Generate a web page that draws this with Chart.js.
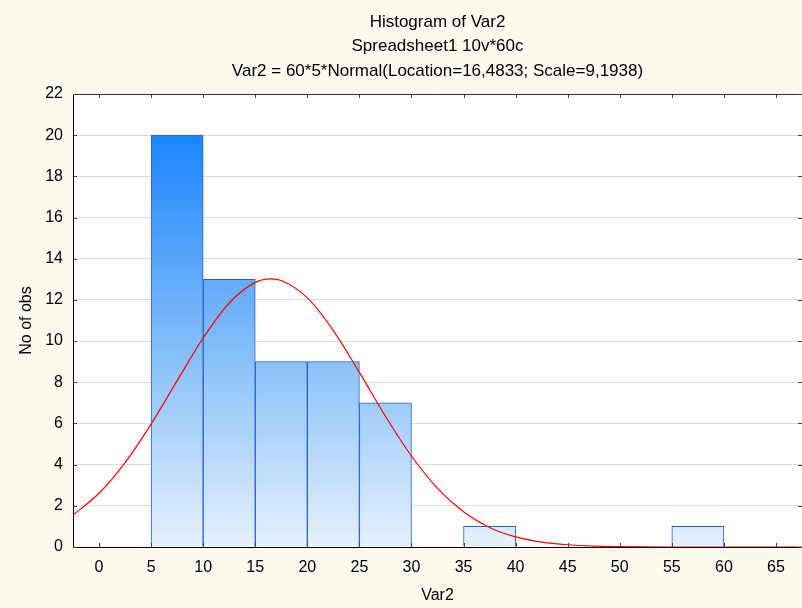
<!DOCTYPE html>
<html>
<head>
<meta charset="utf-8">
<script src="https://cdn.jsdelivr.net/npm/chart.js@4.4.0/dist/chart.umd.min.js"></script>
<style>
  html, body { margin: 0; padding: 0; background: #fdf9ef; }
  #wrap { width: 802px; height: 608px; }
</style>
</head>
<body>
<div id="wrap"><canvas id="hist" width="802" height="608"></canvas></div>
<script>
// histogram bins (lower edge) and counts
const binStarts = [5, 10, 15, 20, 25, 35, 55];
const binCounts = [20, 13, 9, 9, 7, 1, 1];
const binWidth = 5;

// fitted normal curve, sampled
const fitX = [-2.5, 0, 2.5, 5, 7.5, 10, 12.5, 15, 16.5, 17.5, 20, 22.5, 25, 27.5, 30, 32.5, 35, 37.5, 40, 42.5, 45, 47.5, 50, 55, 60, 67.5];
const fitY = [1.55, 2.61, 4.10, 5.97, 8.08, 10.15, 11.85, 12.85, 13.02, 12.94, 12.10, 10.51, 8.48, 6.35, 4.42, 2.85, 1.71, 0.95, 0.49, 0.24, 0.11, 0.04, 0.02, 0, 0, 0];

const xTicks = [0, 5, 10, 15, 20, 25, 30, 35, 40, 45, 50, 55, 60, 65];
const titleLines = [
	'Histogram of Var2',
	'Spreadsheet1 10v*60c',
	'Var2 = 60*5*Normal(Location=16,4833; Scale=9,1938)'
];

const FONT = 'Liberation Sans, Arial, sans-serif';

const barData = binStarts.map((lo, i) => ({x: lo + binWidth / 2, y: binCounts[i]}));
const fitData = fitX.map((v, i) => ({x: v, y: fitY[i]}));

// cream page, white plot area, inner tick marks and top frame line
const frame = {
	id: 'frame',
	beforeDraw(chart) {
		const {ctx, chartArea: a} = chart;
		ctx.save();
		ctx.fillStyle = '#fdf9ef';
		ctx.fillRect(0, 0, chart.width, chart.height);
		ctx.fillStyle = '#ffffff';
		ctx.fillRect(a.left, a.top, a.right - a.left, a.bottom - a.top);
		ctx.restore();
	},
	afterDraw(chart) {
		const {ctx, chartArea: a, scales: {x, y}} = chart;
		ctx.save();
		ctx.lineWidth = 1;
		ctx.strokeStyle = '#303030';
		ctx.beginPath();
		ctx.moveTo(a.left, a.top + 0.5);
		ctx.lineTo(a.right, a.top + 0.5);
		ctx.stroke();
		ctx.strokeStyle = '#404040';
		ctx.beginPath();
		x.ticks.forEach(t => {
			const px = Math.round(x.getPixelForValue(t.value)) + 0.5;
			ctx.moveTo(px, a.bottom);
			ctx.lineTo(px, a.bottom - 4);
			ctx.moveTo(px, a.top);
			ctx.lineTo(px, a.top + 4);
		});
		y.ticks.forEach(t => {
			const py = Math.round(y.getPixelForValue(t.value)) + 0.5;
			ctx.moveTo(a.left, py);
			ctx.lineTo(a.left + 4, py);
			ctx.moveTo(a.right, py);
			ctx.lineTo(a.right - 4, py);
		});
		ctx.stroke();
		ctx.restore();
	}
};

function barFill(context) {
	const chart = context.chart;
	const a = chart.chartArea;
	if (!a) {
		return '#1a85ff';
	}
	const g = chart.ctx.createLinearGradient(0, a.top, 0, a.bottom);
	g.addColorStop(0, 'rgb(6,122,255)');
	g.addColorStop(0.5, 'rgb(118,182,248)');
	g.addColorStop(1, 'rgb(230,241,253)');
	return g;
}

const ctx = document.getElementById('hist').getContext('2d');
const chart = new Chart(ctx, {
	type: 'bar',
	data: {
		datasets: [
			{
				type: 'line',
				data: fitData,
				borderColor: '#ff0000',
				borderWidth: 1.2,
				pointRadius: 0,
				cubicInterpolationMode: 'monotone',
				fill: false,
				order: 0
			},
			{
				type: 'bar',
				data: barData,
				backgroundColor: barFill,
				borderColor: '#2a5fd4',
				borderWidth: 1,
				barPercentage: 1,
				categoryPercentage: 1,
				order: 1
			}
		]
	},
	options: {
		responsive: false,
		animation: false,
		devicePixelRatio: 1,
		layout: {padding: 0},
		plugins: {
			legend: {display: false},
			tooltip: {enabled: false}
		},
		scales: {
			x: {
				type: 'linear',
				min: -2.5,
				max: 67.5,
				offset: false,
				afterBuildTicks(scale) {
					scale.ticks = xTicks.map(v => ({value: v}));
				},
				afterFit(scale) {
					scale.height = 61;
				},
				grid: {display: false, offset: false, drawTicks: false},
				border: {display: true, color: '#000', width: 1},
				ticks: {
					color: '#000',
					font: {family: FONT, size: 16},
					padding: 11,
					maxRotation: 0
				},
				title: {
					display: true,
					text: 'Var2',
					color: '#000',
					font: {family: FONT, size: 16},
					padding: {top: 0, bottom: 3}
				}
			},
			// top axis only carries the heading, centred over the plot
			xTop: {
				type: 'linear',
				position: 'top',
				min: -2.5,
				max: 67.5,
				offset: false,
				afterFit(scale) {
					scale.height = 94;
				},
				grid: {display: false, drawTicks: false},
				border: {display: false},
				ticks: {display: false},
				title: {
					display: true,
					text: titleLines,
					color: '#000',
					font: {family: FONT, size: 17, lineHeight: 1.44},
					padding: {top: 10, bottom: 0}
				}
			},
			y: {
				min: 0,
				max: 22,
				afterFit(scale) {
					scale.width = 73;
				},
				grid: {color: '#dcdcdc', lineWidth: 1, drawTicks: false},
				border: {display: true, color: '#000', width: 1},
				ticks: {
					stepSize: 2,
					color: '#000',
					font: {family: FONT, size: 16},
					padding: 10
				},
				title: {
					display: true,
					text: 'No of obs',
					color: '#000',
					font: {family: FONT, size: 16},
					padding: {top: 17, bottom: 0}
				}
			}
		}
	},
	plugins: [frame]
});
</script>
</body>
</html>
